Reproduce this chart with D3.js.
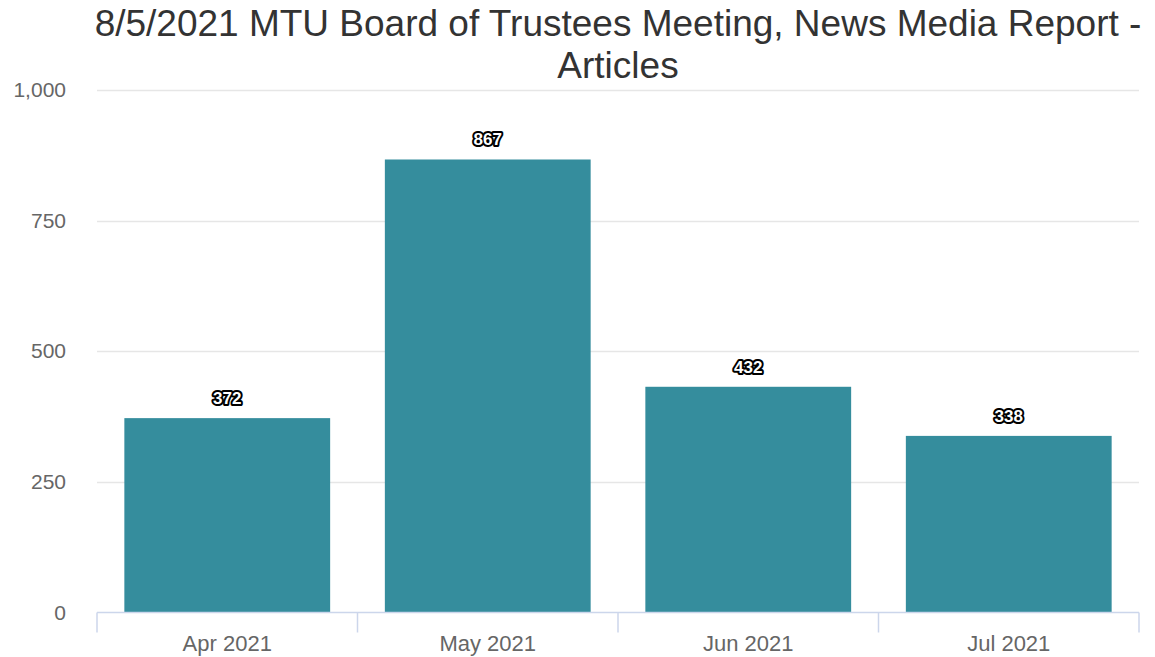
<!DOCTYPE html>
<html>
<head>
<meta charset="utf-8">
<script src="https://cdn.jsdelivr.net/npm/d3@7"></script>
<style>
  html, body { margin: 0; padding: 0; background: #fff; }
  svg { display: block; }
  svg text { font-family: "Liberation Sans", Arial, Helvetica, sans-serif; }
</style>
</head>
<body>
<svg id="chart" width="1155" height="657"></svg>
<script>
const categories = ["Apr 2021", "May 2021", "Jun 2021", "Jul 2021"];
const articles = [372, 867, 432, 338];
const yTicks = [0, 250, 500, 750, 1000];
const titleLines = ["8/5/2021 MTU Board of Trustees Meeting, News Media Report -", "Articles"];

const svg = d3.select("#chart");
const plot = { left: 97, right: 1139, top: 90, bottom: 612.5 };

const x = d3.scaleBand().domain(categories).range([plot.left, plot.right]).paddingInner(0.21).paddingOuter(0.105);
const xBand = d3.scaleBand().domain(categories).range([plot.left, plot.right]);
const y = d3.scaleLinear().domain([0, 1000]).range([plot.bottom, plot.top]);

// title
svg.append("g").selectAll("text").data(titleLines).join("text")
  .attr("x", 618).attr("y", (d, i) => 36 + i * 42)
  .attr("text-anchor", "middle")
  .attr("fill", "#333333")
  .style("font-size", "37px")
  .text(d => d);

// gridlines
svg.append("g").selectAll("line").data(yTicks.filter(t => t > 0)).join("line")
  .attr("x1", plot.left).attr("x2", plot.right)
  .attr("y1", d => Math.round(y(d)) + 0.5).attr("y2", d => Math.round(y(d)) + 0.5)
  .attr("stroke", "#e6e6e6").attr("stroke-width", 1.5);

// y labels
svg.append("g").selectAll("text").data(yTicks).join("text")
  .attr("x", 66).attr("y", d => y(d) + 7)
  .attr("text-anchor", "end")
  .attr("fill", "#666666")
  .style("font-size", "21px")
  .text(d => d3.format(",")(d));

// bars
svg.append("g").selectAll("rect").data(articles).join("rect")
  .attr("x", (d, i) => x(categories[i]))
  .attr("width", x.bandwidth())
  .attr("y", d => y(d))
  .attr("height", d => plot.bottom - y(d))
  .attr("fill", "#358d9d");

// x axis
const gx = svg.append("g").attr("transform", `translate(0,${plot.bottom})`);
gx.append("line").attr("x1", plot.left).attr("x2", plot.right).attr("y1", 0).attr("y2", 0)
  .attr("stroke", "#ccd6eb").attr("stroke-width", 1.5);
const tickPos = categories.map(c => xBand(c)).concat([plot.right]);
gx.selectAll("line.tick").data(tickPos).join("line").attr("class", "tick")
  .attr("x1", d => d).attr("x2", d => d).attr("y1", 0).attr("y2", 20)
  .attr("stroke", "#ccd6eb").attr("stroke-width", 1.5);
gx.selectAll("text").data(categories).join("text")
  .attr("x", d => xBand(d) + xBand.bandwidth() / 2)
  .attr("y", 38)
  .attr("text-anchor", "middle")
  .attr("fill", "#666666")
  .style("font-size", "22px")
  .text(d => d);

// data labels
svg.append("g").selectAll("text").data(articles).join("text")
  .attr("x", (d, i) => x(categories[i]) + x.bandwidth() / 2)
  .attr("y", d => y(d) - 14)
  .attr("text-anchor", "middle")
  .attr("fill", "#ffffff")
  .attr("stroke", "#000000")
  .attr("stroke-width", 4)
  .attr("stroke-linejoin", "round")
  .attr("paint-order", "stroke")
  .style("font-size", "17px")
  .style("font-weight", "bold")
  .text(d => d);
</script>
</body>
</html>
